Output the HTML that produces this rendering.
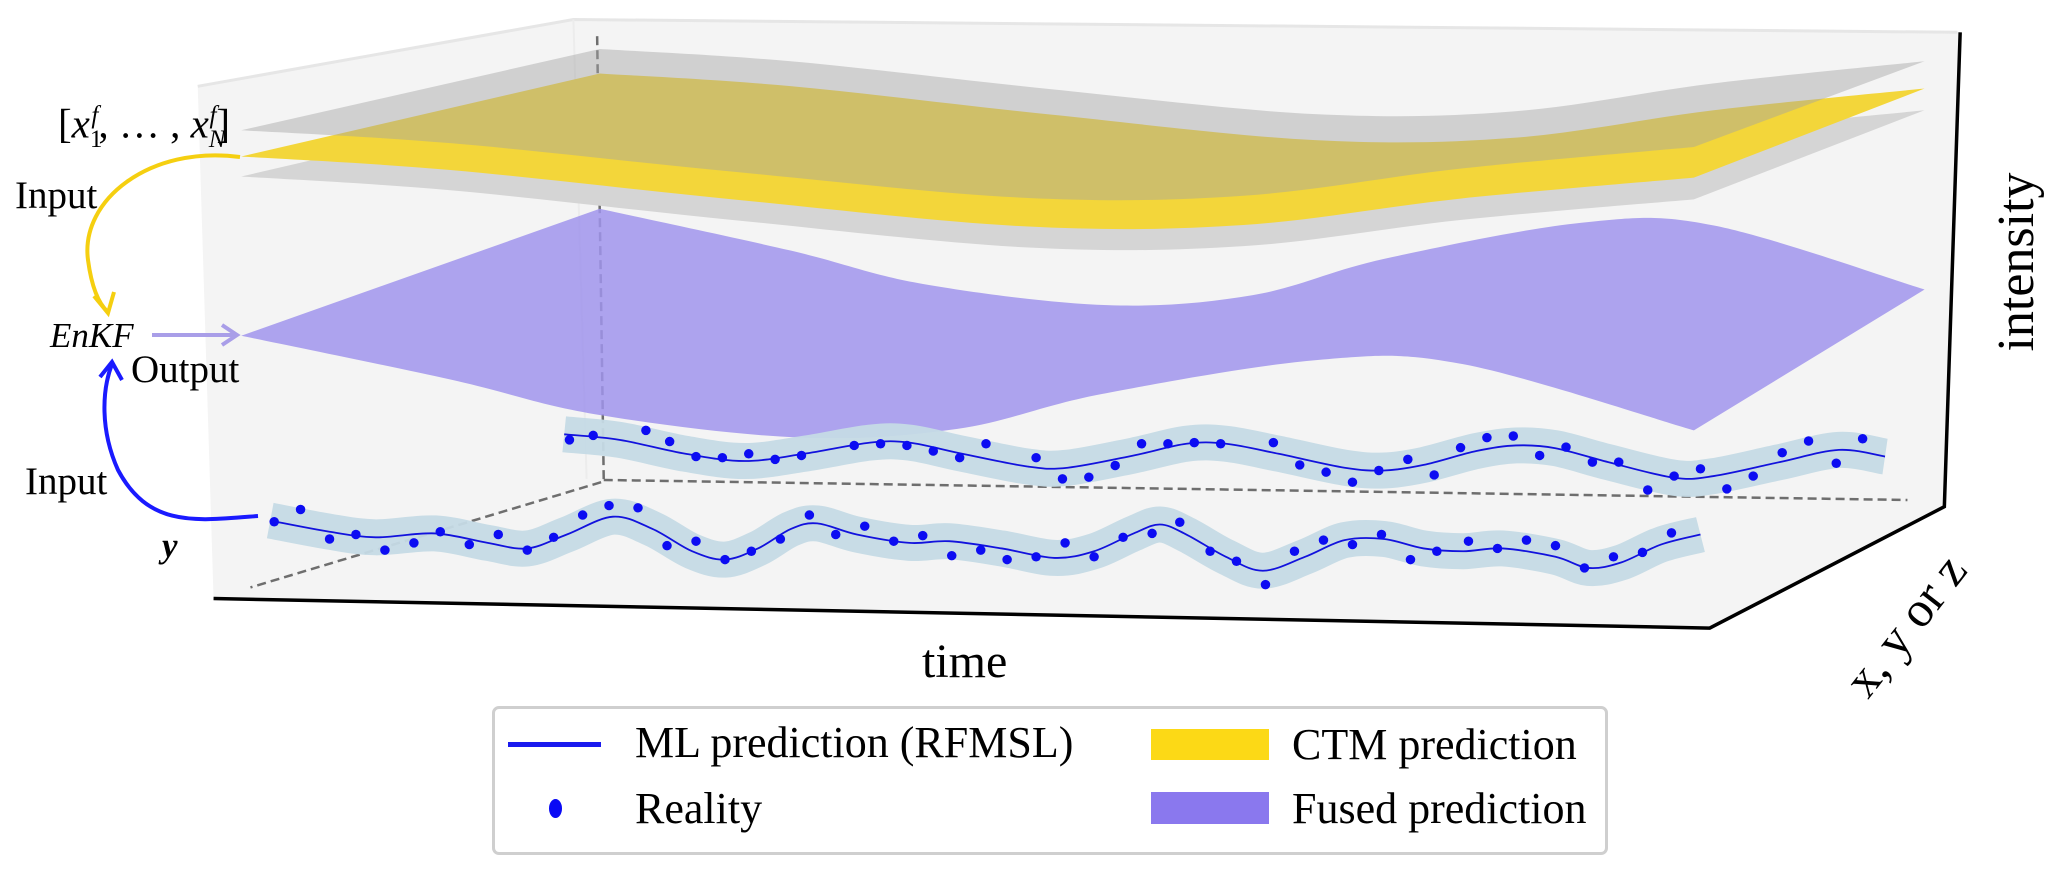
<!DOCTYPE html>
<html><head><meta charset="utf-8"><style>
html,body{margin:0;padding:0;background:#fff;}
#wrap{position:relative;width:2067px;height:873px;overflow:hidden;font-family:"Liberation Serif",serif;color:#000;}
.t{position:absolute;white-space:nowrap;line-height:1;}
</style></head><body>
<div id="wrap">
<svg id="chart" width="2067" height="873" viewBox="0 0 2067 873" style="position:absolute;left:0;top:0">
 <g id="scene" transform="scale(1.3182,0.5568)"></g>
 <g id="arrows"></g>
</svg>

<div class="t" style="left:58px;top:103px;font-size:41px;">[<i>x</i><sub style="font-size:25px">1</sub><sup style="font-size:25px;margin-left:-11px"><i>f</i></sup>, … , <i>x</i><sub style="font-size:25px"><i>N</i></sub><sup style="font-size:25px;margin-left:-16px"><i>f</i></sup>]</div>
<div class="t" style="left:15px;top:176px;font-size:39px;">Input</div>
<div class="t" style="left:50px;top:318px;font-size:35px;font-style:italic;">EnKF</div>
<div class="t" style="left:131px;top:350px;font-size:39px;">Output</div>
<div class="t" style="left:25px;top:462px;font-size:39px;">Input</div>
<div class="t" style="left:162px;top:528px;font-size:35px;font-style:italic;font-weight:bold;">y</div>
<div class="t" style="left:922px;top:638px;font-size:48px;">time</div>
<div class="t" style="left:2017px;top:262px;font-size:52px;transform:translate(-50%,-50%) rotate(-90deg);">intensity</div>
<div class="t" style="left:1905px;top:625px;font-size:50px;transform:translate(-50%,-50%) rotate(-52deg);">x, y or z</div>

<div style="position:absolute;left:492px;top:706px;width:1110px;height:143px;border:3px solid #cfcfcf;border-radius:7px;background:#fff;">
 <div style="position:absolute;left:13px;top:33px;width:93px;height:5px;background:#1a1aee;"></div>
 <div class="t" style="left:140px;top:12px;font-size:44px;">ML prediction (RFMSL)</div>
 <div style="position:absolute;left:54px;top:90px;width:13px;height:19px;border-radius:50%;background:#0a0af5;"></div>
 <div class="t" style="left:140px;top:78px;font-size:44px;">Reality</div>
 <div style="position:absolute;left:656px;top:20px;width:118px;height:31px;background:#fcd916;"></div>
 <div class="t" style="left:797px;top:14px;font-size:44px;">CTM prediction</div>
 <div style="position:absolute;left:656px;top:83px;width:118px;height:32px;background:#8a78ee;"></div>
 <div class="t" style="left:797px;top:78px;font-size:44px;">Fused prediction</div>
</div>
</div>

<script>
// ---- data ----
const surfT = [0, 0.144, 0.34, 0.54, 0.69, 0.84, 1];
const grayTopH = [88, 110, 160, 205, 200, 150, 110];
const fusedT = [0, 0.144, 0.244, 0.383, 0.493, 0.592, 0.741, 0.841, 1];
const fusedH = [375, 450, 510, 548, 530, 465, 400, 405, 520];
const backTime = [42.8,47,52,56.5,61,66,69,73,78,81,86,90,93,97,102,105,108,112,115,118,122,127,130,135,139.5,143];
const backPred = [6.0,5.0,2.5,1.2,2.5,4.5,4.5,2.5,0.2,0,2.2,4.3,4.3,2.5,0,-0.5,0.5,3.0,4.0,3.5,1.0,-1.8,-1.5,1.0,3.2,2.0];
const backObsTime = [43.2,45,49,50.8,52.8,54.8,56.8,58.8,60.8,64.8,66.8,68.8,70.8,72.8,74.8,78.6,80.6,82.6,84.6,86.6,88.6,90.6,92.6,96.6,98.6,100.6,102.6,104.6,106.8,108.8,110.8,112.8,114.8,116.8,118.8,120.8,122.8,125,127,129,131,133,135.2,137.2,139.3,141.3];
const backObs = [5.0,5.8,6.7,4.7,2.0,1.8,2.5,1.5,2.2,4.0,4.3,4.0,3.0,1.8,4.3,1.8,-2.0,-1.7,0.4,4.3,4.3,4.5,4.3,4.5,0.5,-0.8,-2.6,-0.5,1.5,-1.3,3.6,5.4,5.7,2.2,3.7,1.0,1.0,-4.0,-1.5,-0.2,-3.8,-1.5,2.7,4.8,0.8,5.2];
const frontTime = [20.5,25,28.5,33,37,40,43,46.5,49.5,52.5,55,57.5,60,62,65,69,72,76,80,83,86,88,90,93,95.8,99,102,105,108,111,114,118,120.5,123,126,129];
const frontPred = [6.5,4.5,3.5,4.2,2.5,1.5,4.0,7.2,5.0,1.0,-0.5,1.5,5.0,6.0,4.0,2.5,2.8,1.5,-0.2,1.0,4.2,5.8,4.0,0,-2.5,0,3.0,3.2,1.5,1.0,1.5,0,-2.0,-1.0,2.2,4.0];
const frontObsTime = [20.8,22.8,25,27,29.2,31.4,33.4,35.6,37.8,40,42,44.2,46.2,48.4,50.6,52.8,55,57,59.2,61.4,63.4,65.6,67.8,70,72.2,74.4,76.4,78.6,80.8,83,85.2,87.4,89.5,91.8,93.8,96,98.2,100.4,102.6,104.8,107,109,111.4,113.6,115.8,118,120.2,122.4,124.6,126.8];
const frontObs = [6.3,8.5,3.2,4.0,1.2,2.5,4.5,2.2,4.0,1.2,3.5,7.5,9.2,8.8,2.0,2.8,-0.5,1.0,3.2,7.5,4.0,5.5,2.8,3.8,0.2,1.2,-0.5,0,2.5,0,3.5,4.2,6.2,1.0,-0.8,-5.0,1.0,3.0,2.2,4.0,-0.5,1.0,2.8,1.5,3.0,2.0,-2.0,0,0.8,4.3];

// ---- axis functions ----
const xTime = t => t*10;
const yBack = v => 840 - v*10;
const yFront = v => 1000 - v*10;
const xFrontEdge = t => 183 + 1102*t;
const xBackEdge = t => 455 + 1005*t;

const NS = "http://www.w3.org/2000/svg";
const scene = document.getElementById('scene');
const arrows = document.getElementById('arrows');
function mk(tag, attrs, parent){ const e=document.createElementNS(NS,tag); for(const k in attrs) e.setAttribute(k,attrs[k]); (parent||scene).appendChild(e); return e; }
function crPath(pts, move){
  let d = move ? `M${pts[0][0]},${pts[0][1]}` : `L${pts[0][0]},${pts[0][1]}`;
  for(let i=0;i<pts.length-1;i++){
    const p0=pts[Math.max(0,i-1)],p1=pts[i],p2=pts[i+1],p3=pts[Math.min(pts.length-1,i+2)];
    const c1=[p1[0]+(p2[0]-p0[0])/6,p1[1]+(p2[1]-p0[1])/6];
    const c2=[p2[0]-(p3[0]-p1[0])/6,p2[1]-(p3[1]-p1[1])/6];
    d+=` C${c1[0]},${c1[1]} ${c2[0]},${c2[1]} ${p2[0]},${p2[1]}`;
  }
  return d;
}
function surface(ts, hs, shiftFn, offFn, fill, name){
  const back = ts.map((t,i)=>[xBackEdge(t), hs[i]+shiftFn(t)]);
  const front = ts.map((t,i)=>[xFrontEdge(t), hs[i]+shiftFn(t)+offFn(t)]);
  const d = crPath(front,true) + ' ' + crPath(back.slice().reverse(),false) + ' Z';
  const p = mk('path',{d:d,fill:fill});
  
  
  return p;
}

const box = mk('polygon',{points:"150,155 435,35 1485,58 1487,58 1475,910 1297,1128 162,1075",fill:"#f4f4f4"});


mk('polyline',{points:"150,155 435,35 1485,58",fill:"none",stroke:"#e6e6e6","stroke-width":3,"vector-effect":"non-scaling-stroke"});
mk('line',{x1:435,y1:35,x2:445,y2:860,stroke:"#ececec","stroke-width":2,"vector-effect":"non-scaling-stroke"});
const dash = {stroke:"#6e6e6e","stroke-width":2.5,"stroke-dasharray":"9,5",fill:"none","vector-effect":"non-scaling-stroke"};
const dv = mk('line',Object.assign({x1:453,y1:65,x2:458,y2:862},dash));


const db = mk('line',Object.assign({x1:458,y1:862,x2:1447,y2:898},dash));


const dl = mk('line',Object.assign({x1:456,y1:866,x2:190,y2:1055},dash));



surface(surfT, grayTopH, t=>80+8*t, t=>149+11*t, "#d5d5d5", "ensemble-lower-surface");
surface(surfT, grayTopH, t=>44+5*t, t=>149+11*t, "#f3d63a", "ctm-prediction-surface");
surface(surfT, grayTopH, t=>0, t=>146+8*t, "rgba(165,165,165,0.45)", "ensemble-upper-surface");
surface(fusedT, fusedH, t=>0, t=>228+25*t, "rgba(160,148,236,0.85)", "fused-prediction-surface");

function wave(times, vals, yf, name){
  const pts = times.map((t,i)=>[xTime(t), yf(vals[i])]);
  const d = crPath(pts,true);
  const band = mk('path',{d:d,fill:"none",stroke:"#c6dbe6","stroke-width":36,"stroke-linecap":"butt","stroke-linejoin":"round","vector-effect":"non-scaling-stroke",opacity:0.95});
  
  
  const line = mk('path',{d:d,fill:"none",stroke:"#1212dd","stroke-width":1.8,"vector-effect":"non-scaling-stroke"});
  
  
}
function dots(times, vals, yf, name){
  times.forEach((t,i)=>{
    const c = mk('ellipse',{cx:xTime(t),cy:yf(vals[i]),rx:3.6,ry:8.5,fill:"#0c0cf2"});
    
    
  });
}
wave(backTime, backPred, yBack, 'ml-prediction-back');
dots(backObsTime, backObs, yBack, 'reality-point-back');
wave(frontTime, frontPred, yFront, 'ml-prediction-front');
dots(frontObsTime, frontObs, yFront, 'reality-point-front');

const ax = {stroke:"#000","stroke-width":3.5,fill:"none","vector-effect":"non-scaling-stroke"};
const a1 = mk('polyline',Object.assign({points:"1487,58 1475,910 1297,1128 162,1075"},ax));



function arrow(d, color, head, name){
  const p = mk('path',{d:d,fill:"none",stroke:color,"stroke-width":4},arrows);
  
  
  const h = mk('polyline',{points:head,fill:"none",stroke:color,"stroke-width":4},arrows);
  
  
}
arrow("M240,157 C150,145 80,200 88,260 C92,290 100,305 108,312", "#f5cf10", "94,296 108,313 114,292", "ctm-input-arrow");
arrow("M152,335 L236,335", "#a99ee8", "222,325 237,335 222,345", "fused-output-arrow");
arrow("M258,516 C200,520 150,530 118,470 C100,430 102,390 112,364", "#1a1aff", "100,377 112,362 122,380", "ml-input-arrow");
</script>
</body></html>
